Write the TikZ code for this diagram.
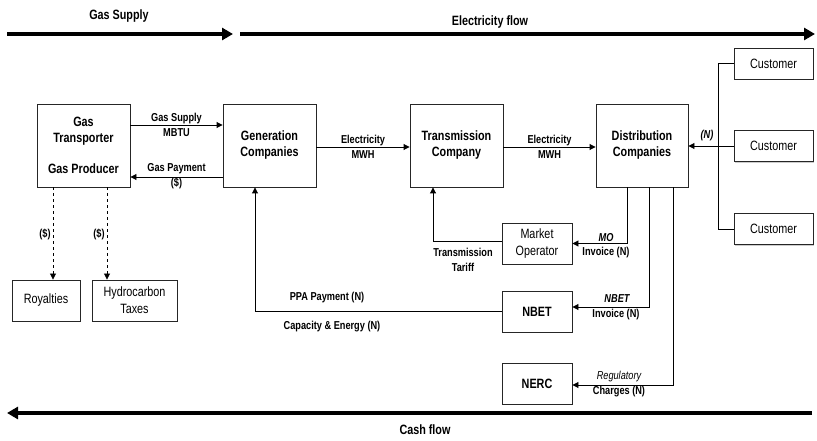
\documentclass[tikz,border=0pt]{standalone}
\usepackage{fontspec}
\setmainfont{Liberation Sans}[FakeStretch=0.8]
\usetikzlibrary{arrows.meta,shadows}
\begin{document}
\begin{tikzpicture}[x=1pt,y=-1pt,
  box/.style={draw=black!85, line width=0.9pt, fill=white,
    drop shadow={shadow xshift=1.3pt,shadow yshift=-1.3pt,fill=black!40,opacity=0.5},
    inner sep=0pt, align=center},
  boldbox/.style={box, font=\fontsize{13.5}{16}\selectfont\bfseries},
  plainbox/.style={box, font=\fontsize{13.5}{17}\selectfont},
  conn/.style={draw=black, line width=0.9pt, -{Triangle[length=6pt,width=6pt]}},
  plainline/.style={draw=black, line width=0.9pt},
  dashconn/.style={draw=black, line width=0.8pt, dash pattern=on 3pt off 3pt, -{Triangle[length=6pt,width=6pt]}},
  flow/.style={draw=black, line width=4.5pt, -{Triangle[length=11pt,width=12pt]}},
  flowlbl/.style={font=\fontsize{13.5}{16}\selectfont\bfseries, inner sep=0pt},
  lbl/.style={font=\fontsize{11.5}{14.5}\selectfont\bfseries, inner sep=0pt, align=center},
]
\useasboundingbox (0,0) rectangle (817,441);

% flow arrows
\coordinate (gs1) at (7,34);
\coordinate (gs2) at (233,34);
\coordinate (ef1) at (240,34);
\coordinate (ef2) at (815,34);
\coordinate (cf1) at (812,413);
\coordinate (cf2) at (7,413);
\draw[flow] (gs1) -- (gs2);
\draw[flow] (ef1) -- (ef2);
\draw[flow] (cf1) -- (cf2);
\node[flowlbl] (gslbl) at (119,16) {Gas Supply};
\node[flowlbl] (eflbl) at (490,22) {Electricity flow};
\node[flowlbl] (cflbl) at (425,430) {Cash flow};

% boxes
\node[boldbox, minimum width=93pt, minimum height=83pt] (gas) at (83.5,145.5)
  {Gas\\Transporter\\[15pt]Gas Producer};
\node[boldbox, minimum width=93pt, minimum height=83pt] (gen) at (269.5,145.5)
  {Generation\\Companies};
\node[boldbox, minimum width=93pt, minimum height=83pt] (trans) at (456.5,145.5)
  {Transmission\\Company};
\node[boldbox, minimum width=92pt, minimum height=83pt] (dist) at (642,145.5)
  {Distribution\\Companies};

\node[plainbox, minimum width=79pt, minimum height=31pt] (cust1) at (773.5,63.5) {Customer};
\node[plainbox, minimum width=79pt, minimum height=31pt] (cust2) at (773.5,146) {Customer};
\node[plainbox, minimum width=79pt, minimum height=31pt] (cust3) at (773.5,229) {Customer};

\node[plainbox, minimum width=70pt, minimum height=41pt] (mo) at (537,243.5) {Market\\Operator};
\node[boldbox, minimum width=70pt, minimum height=41pt] (nbet) at (537,311.5) {NBET};
\node[boldbox, minimum width=70pt, minimum height=41pt] (nerc) at (537,383.5) {NERC};

\node[plainbox, minimum width=68pt, minimum height=41pt] (roy) at (46,300.5) {Royalties};
\node[plainbox, minimum width=85pt, minimum height=41pt] (hydro) at (134.5,300.5) {Hydrocarbon\\Taxes};

% gas <-> generation
\coordinate (ya) at (0,125);
\coordinate (yb) at (0,177);
\coordinate (yc) at (0,147);
\draw[conn] (gas.east |- ya) -- (gen.west |- ya)
  node[lbl, midway] (gaslbl) {Gas Supply\\MBTU};
\draw[conn] (gen.west |- yb) -- (gas.east |- yb)
  node[lbl, midway, yshift=1pt] (gpaylbl) {Gas Payment\\(\$)};
\draw[conn] (gen.east |- yc) -- (trans.west |- yc)
  node[lbl, midway] (el1lbl) {Electricity\\MWH};
\draw[conn] (trans.east |- yc) -- (dist.west |- yc)
  node[lbl, midway] (el2lbl) {Electricity\\MWH};

% customers
\draw[plainline] (cust1.west) -- ++(-15,0) |- (cust3.west);
\draw[conn] (cust2.west) -- (dist.east |- cust2.west);
\node[lbl, font=\fontsize{11.5}{14}\selectfont\bfseries\itshape] (nlbl) at (707,136) {(N)};

% distribution -> MO / NBET / NERC
\draw[conn] ([xshift=-15pt]dist.south) |- (mo.east);
\node[lbl, font=\fontsize{11.5}{14}\selectfont\bfseries\itshape] (molbl1) at (606,238) {MO};
\node[lbl] (molbl2) at (606,253) {Invoice (N)};

\draw[conn] ([xshift=7pt]dist.south) |- ([yshift=4.5pt]nbet.east);
\node[lbl, font=\fontsize{11.5}{14}\selectfont\bfseries\itshape] (nblbl1) at (617,299) {NBET};
\node[lbl] (nblbl2) at (616,315) {Invoice (N)};

\draw[conn] ([xshift=31pt]dist.south) |- ([yshift=-1.5pt]nerc.east);
\node[lbl, font=\fontsize{11.5}{14}\selectfont\itshape] (nclbl1) at (619,377) {Regulatory};
\node[lbl] (nclbl2) at (619,392) {Charges (N)};

% MO -> transmission
\draw[conn] ([yshift=2.5pt]mo.west) -| ([xshift=-23.5pt]trans.south);
\node[lbl] (ttlbl) at (463,260) {Transmission\\Tariff};

% NBET -> generation
\draw[conn] (nbet.west) -| ([xshift=-14.5pt]gen.south);
\node[lbl] (ppalbl) at (327,298) {PPA Payment (N)};
\node[lbl] (caplbl) at (332,327) {Capacity \& Energy (N)};

% gas -> royalties / taxes
\draw[dashconn] ([xshift=-30.5pt]gas.south) -- ([xshift=-30.5pt]gas.south |- roy.north);
\draw[dashconn] ([xshift=23.5pt]gas.south) -- ([xshift=23.5pt]gas.south |- hydro.north);
\node[lbl] (d1lbl) at (45,234) {(\$)};
\node[lbl] (d2lbl) at (99,234) {(\$)};
\end{tikzpicture}
\end{document}
